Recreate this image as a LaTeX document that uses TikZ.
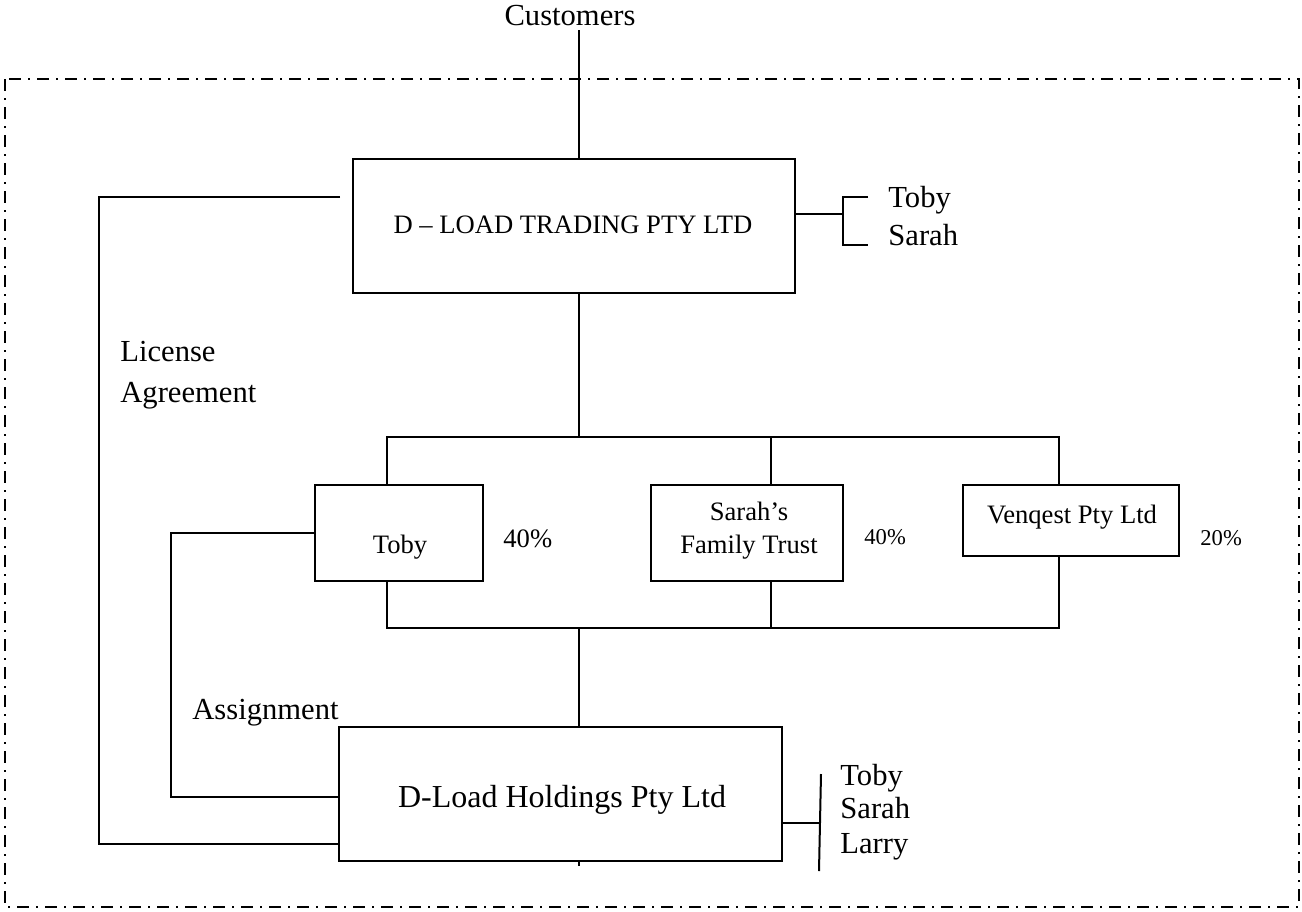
\documentclass[tikz,border=0pt]{standalone}
\usepackage{fontspec}
\setmainfont{Liberation Serif}
\begin{document}
\begin{tikzpicture}[x=0.5pt,y=-0.5pt,
  boxs/.style={draw, line width=1pt, inner sep=0pt},
  txtL/.style={font=\fontsize{15.3}{18}\selectfont, inner sep=0pt},
  txtH/.style={font=\fontsize{16}{19}\selectfont, inner sep=0pt},
  txtM/.style={font=\fontsize{13.3}{16}\selectfont, inner sep=0pt},
  txtS/.style={font=\fontsize{11.3}{14}\selectfont, inner sep=0pt},
  conn/.style={line width=1pt},
  framestyle/.style={line width=1pt, dash pattern=on 6pt off 3.5pt on 1pt off 3.5pt}]
\useasboundingbox (0,0) rectangle (1302,911);
% frame
\draw[framestyle] (5,79) rectangle (1299,907);
% boxes
\node[boxs, minimum width=221pt, minimum height=67pt] (trading) at (574,226) {};
\node[boxs, minimum width=84pt, minimum height=48pt] (toby) at (399,533) {};
\node[boxs, minimum width=96pt, minimum height=48pt] (strust) at (747,533) {};
\node[boxs, minimum width=108pt, minimum height=35.5pt] (venq) at (1071,520.5) {};
\node[boxs, minimum width=221.5pt, minimum height=67pt] (hold) at (560.5,794) {};
% box texts
\node[txtM, anchor=base] (tradingT) at (573,233) {D – LOAD TRADING PTY LTD};
\node[txtM, anchor=base] (tobyT) at (400,553) {Toby};
\node[txtM, anchor=base] (strustA) at (749,520) {Sarah’s};
\node[txtM, anchor=base] (strustB) at (749,553) {Family Trust};
\node[txtM, anchor=base] (venqT) at (1072,523) {Venqest Pty Ltd};
\node[txtH, anchor=base] (holdT) at (562,807) {D-Load Holdings Pty Ltd};
% free labels
\node[txtL, anchor=base] (customers) at (570,25) {Customers};
\node[txtL, anchor=base west] (dirTobyA) at (888,207) {Toby};
\node[txtL, anchor=base west] (dirSarahA) at (888,245) {Sarah};
\node[txtL, anchor=base west] (licA1) at (120,361) {License};
\node[txtL, anchor=base west] (licA2) at (120,402) {Agreement};
\node[txtL, anchor=base west] (assignT) at (192,719) {Assignment};
\node[txtM, anchor=base west] (pctToby) at (503,547) {40\%};
\node[txtS, anchor=base west] (pctSarah) at (864,544) {40\%};
\node[txtS, anchor=base west] (pctVenq) at (1200,545) {20\%};
\node[txtL, anchor=base west] (dirTobyB) at (840,785) {Toby};
\node[txtL, anchor=base west] (dirSarahB) at (840,818) {Sarah};
\node[txtL, anchor=base west] (dirLarryB) at (840,853) {Larry};
% customers line
\coordinate (custEnd) at (579,30);
\draw[conn] (custEnd) -- (custEnd |- trading.north);
% upper bus
\coordinate (busT) at (579,437);
\coordinate (bl) at (387,437);
\coordinate (bm) at (771,437);
\coordinate (br) at (1059,437);
\draw[conn] (busT |- trading.south) -- (busT);
\draw[conn] (bl |- toby.north) -- (bl) -- (br) -- (br |- venq.north);
\draw[conn] (bm) -- (bm |- strust.north);
% lower bus
\coordinate (busB) at (579,628);
\coordinate (ll) at (387,628);
\coordinate (lm) at (771,628);
\coordinate (lr) at (1059,628);
\draw[conn] (ll |- toby.south) -- (ll) -- (lr) -- (lr |- venq.south);
\draw[conn] (lm |- strust.south) -- (lm);
\draw[conn] (busB) -- (busB |- hold.north);
\draw[conn] (busB |- hold.south) -- ++(0,4);
% license agreement
\coordinate (licS) at (340,197);
\coordinate (licB) at (99,197);
\coordinate (licC) at (99,844);
\draw[conn] (licS) -- (licB) -- (licC) -- (licC -| hold.west);
% assignment
\coordinate (asA) at (171,533);
\coordinate (asB) at (171,797);
\draw[conn] (toby.west) -- (asA) -- (asB) -- (asB -| hold.west);
% directors of trading
\coordinate (brk) at (843,214);
\coordinate (brkT) at (843,197);
\coordinate (brkB) at (843,245);
\draw[conn] (trading.east |- brk) -- (brk);
\draw[conn] (brkT) ++(25,0) -- (brkT) -- (brkB) -- ++(25,0);
% directors of holdings
\coordinate (hb) at (820,823);
\coordinate (hbT) at (821,774);
\coordinate (hbB) at (819,871);
\draw[conn] (hold.east |- hb) -- (hb);
\draw[conn] (hbT) -- (hbB);
\end{tikzpicture}
\end{document}
